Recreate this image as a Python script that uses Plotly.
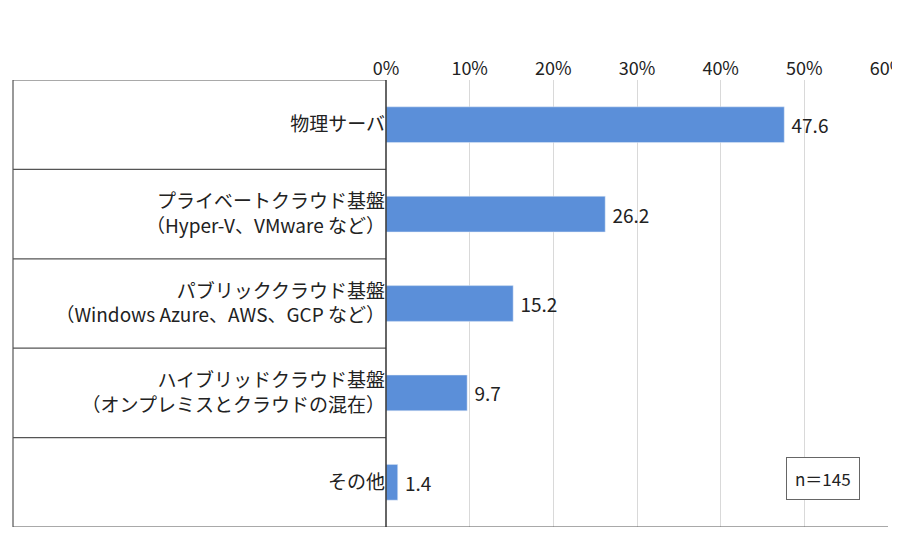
import plotly.graph_objects as go

categories = [
    "物理サーバ",
    "プライベートクラウド基盤<br>（Hyper-V、VMware など）",
    "パブリッククラウド基盤<br>（Windows Azure、AWS、GCP など）",
    "ハイブリッドクラウド基盤<br>（オンプレミスとクラウドの混在）",
    "その他",
]
values = [47.6, 26.2, 15.2, 9.7, 1.4]
tick_vals = [0, 10, 20, 30, 40, 50, 60]
tick_text = ["0%", "10%", "20%", "30%", "40%", "50%", "60%"]

font = "Noto Sans CJK JP"
pos = list(range(len(categories)))

fig = go.Figure()
fig.add_bar(
    x=values, y=pos, orientation="h",
    marker_color="#5b8fd9",
    text=[" " + f"{v:.1f}" for v in values], textposition="outside",
    textfont=dict(size=19, color="#222"),
    cliponaxis=False,
)

left = (5 - 378) / 502
shapes = []
# horizontal separators across label area and plot
for b in [-0.5, 0.5, 1.5, 2.5, 3.5, 4.5]:
    x1 = 1 if b == 4.5 else 0
    shapes.append(dict(type="line", xref="paper", yref="y", x0=left, x1=x1,
                       y0=b, y1=b, line=dict(color="#555", width=1.2)))
shapes.append(dict(type="line", xref="paper", yref="paper", x0=left, x1=left,
                   y0=0, y1=1, line=dict(color="#555", width=1.2)))
shapes.append(dict(type="line", xref="paper", yref="paper", x0=0, x1=0,
                   y0=0, y1=1, line=dict(color="#333", width=1.5)))

fig.update_layout(
    width=900, height=533,
    margin=dict(l=378, r=20, t=72, b=14),
    paper_bgcolor="white", plot_bgcolor="white",
    font=dict(family=font, size=19, color="#222"),
    showlegend=False, bargap=0.6,
    shapes=shapes,
    xaxis=dict(range=[0, 60], tickvals=tick_vals, ticktext=tick_text, side="top",
               showgrid=True, gridcolor="#d9d9d9", zeroline=False, automargin=False,
               tickfont=dict(size=18), ticks=""),
    yaxis=dict(range=[4.5, -0.5], tickvals=pos, ticktext=categories, automargin=False,
               ticksuffix="  ", showgrid=False, zeroline=False, ticks=""),
    annotations=[dict(text="n＝145", xref="paper", yref="paper", x=0.945, y=0.06,
                      xanchor="right", yanchor="bottom", showarrow=False,
                      font=dict(size=17), bordercolor="#666", borderwidth=1,
                      borderpad=8, bgcolor="white")],
)
fig.write_html("out.html")
